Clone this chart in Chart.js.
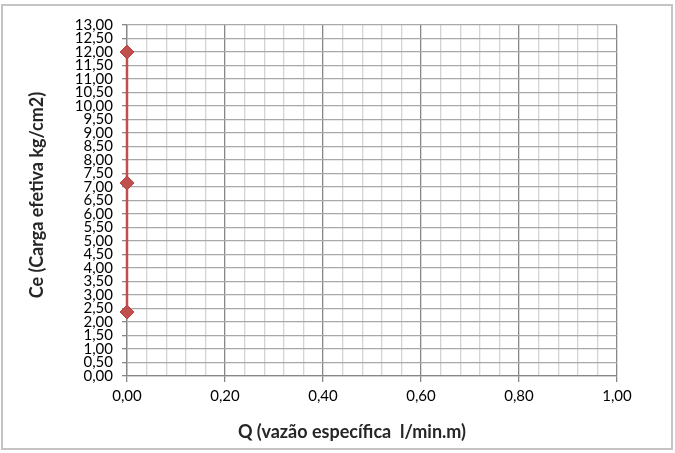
<!DOCTYPE html>
<html>
<head>
<meta charset="utf-8">
<script src="https://cdn.jsdelivr.net/npm/chart.js@4"></script>
<style>
  html, body { margin: 0; padding: 0; background: #fff; }
  #wrap { width: 675px; height: 453px; }
</style>
</head>
<body>
<div id="wrap"><canvas id="ceChart" width="675" height="453"></canvas></div>
<script>
// dados
const qValues = [0, 0, 0];
const ceValues = [2.37, 7.15, 12.0];

const xMin = 0, xMax = 1, xStep = 0.04, xMajor = 0.2;
const yMin = 0, yMax = 13, yStep = 0.5;

const xTitle = 'Q (vazão específica  l/min.m)';
const yTitle = 'Ce (Carga efetiva kg/cm2)';

function fmt(v) {
  return v.toFixed(2).replace('.', ',');
}

function isMajor(v) {
  const r = v / xMajor;
  return Math.abs(r - Math.round(r)) < 1e-6;
}

// moldura e títulos dos eixos
const framePlugin = {
  id: 'frame',
  afterDraw(chart) {
    const ctx = chart.ctx;
    ctx.save();
    ctx.strokeStyle = '#c4c4c4';
    ctx.lineWidth = 2;
    ctx.strokeRect(2, 5, 670, 444);

    ctx.fillStyle = '#262626';
    ctx.font = 'bold 18px Lato, "DejaVu Sans", sans-serif';
    ctx.textAlign = 'center';
    ctx.textBaseline = 'middle';
    ctx.fillText(xTitle, 352, 432);

    ctx.translate(37, 195);
    ctx.rotate(-Math.PI / 2);
    ctx.fillText(yTitle, 0, 0);
    ctx.restore();
  }
};

const points = qValues.map((q, i) => ({ x: q, y: ceValues[i] }));

new Chart(document.getElementById('ceChart').getContext('2d'), {
  type: 'scatter',
  data: {
    datasets: [{
      data: points,
      showLine: true,
      borderColor: '#c0504d',
      backgroundColor: '#c0504d',
      borderWidth: 2.5,
      pointStyle: 'rectRot',
      pointRadius: 7,
      pointHoverRadius: 7,
      pointBorderWidth: 1,
      pointBorderColor: '#b8423f',
      clip: false
    }]
  },
  options: {
    responsive: false,
    animation: false,
    devicePixelRatio: 1,
    layout: { padding: { left: 0, top: 25, right: 58, bottom: 0 } },
    plugins: {
      legend: { display: false },
      tooltip: { enabled: false }
    },
    scales: {
      x: {
        type: 'linear',
        min: xMin,
        max: xMax,
        afterFit(scale) { scale.height = 77; },
        ticks: {
          stepSize: xStep,
          autoSkip: false,
          maxRotation: 0,
          padding: 5,
          color: '#000',
          font: { family: 'Lato, "DejaVu Sans", sans-serif', size: 15 },
          callback: v => isMajor(v) ? fmt(v) : ''
        },
        grid: {
          color: c => isMajor(c.tick.value) ? '#878787' : '#d4d4d4',
          tickColor: c => isMajor(c.tick.value) ? '#878787' : 'rgba(0,0,0,0)',
          tickLength: 6,
          lineWidth: 1.3
        },
        border: { color: '#878787', width: 1.3 }
      },
      y: {
        type: 'linear',
        min: yMin,
        max: yMax,
        afterFit(scale) { scale.width = 127; },
        ticks: {
          stepSize: yStep,
          autoSkip: false,
          padding: 9,
          color: '#000',
          font: { family: 'Lato, "DejaVu Sans", sans-serif', size: 15, lineHeight: 1 },
          callback: v => fmt(v)
        },
        grid: {
          color: '#a8a8a8',
          tickColor: '#878787',
          tickLength: 5,
          lineWidth: 1.3
        },
        border: { color: '#878787', width: 1.3 }
      }
    }
  },
  plugins: [framePlugin]
});
</script>
</body>
</html>
